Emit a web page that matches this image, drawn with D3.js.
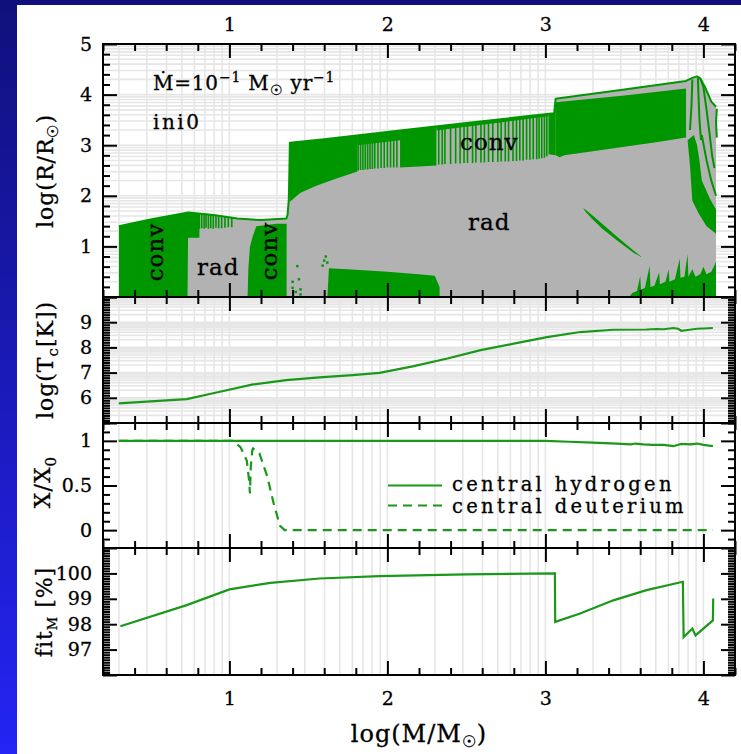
<!DOCTYPE html>
<html>
<head>
<meta charset="utf-8">
<script src="https://cdn.jsdelivr.net/npm/d3@7"></script>
<style>
  html, body { margin: 0; padding: 0; background: #fff; }
  svg { display: block; }
  text { font-family: "DejaVu Serif", serif; fill: #000; stroke: #000; stroke-width: 0.3; }
</style>
</head>
<body>
<svg id="fig" width="741" height="754"></svg>
<script>
// ---------- data ----------
// log M axis ticks
const massMajor = [1, 2, 3, 4];
const massLabels = ["1", "2", "3", "4"];

// panel tick labels
const radiusLabels = [1, 2, 3, 4, 5];
const tempLabels = [6, 7, 8, 9];
const abundLabels = [0, 0.5, 1];
const fitLabels = [97, 98, 99, 100];

// stellar surface log(R/Rsun) vs log(M/Msun)
const surfaceR = [
  [0.30, 1.40], [0.50, 1.53], [0.74, 1.67], [0.90, 1.62], [1.05, 1.55], [1.20, 1.52],
  [1.36, 1.55], [1.368, 1.62], [1.376, 1.92], [1.383, 3.05], [1.60, 3.12], [2.08, 3.29],
  [2.50, 3.44], [3.055, 3.63], [3.065, 3.92], [3.50, 4.10], [3.89, 4.27], [3.93, 4.33],
  [3.96, 4.36], [3.98, 4.32], [4.01, 4.15], [4.05, 3.86], [4.08, 3.76]
];

// convective zones (closed outlines, log M vs log R)
const convCore = [[0.30, 0], [0.30, 1.45], [0.74, 1.75], [0.735, 0]];
const convBandLeft = [[0.735, 1.17], [0.735, 1.80], [0.81, 1.80], [0.81, 1.17]];
const convMid = [[1.115, 0], [1.12, 0.55], [1.13, 1.0], [1.15, 1.22], [1.17, 1.40], [1.30, 1.45], [1.362, 1.45], [1.362, 0]];
const envA = [[1.383, 3.3], [1.383, 1.88], [1.45, 2.06], [1.55, 2.20], [1.66, 2.32], [1.81, 2.48], [1.81, 3.4]];
const envB = [[1.81, 3.0], [2.08, 3.1], [2.08, 3.5], [1.81, 3.5]];
const envC = [[2.08, 2.56], [2.20, 2.58], [2.31, 2.60], [2.31, 3.5], [2.08, 3.5]];
const envD = [[2.31, 3.29], [3.02, 3.57], [3.02, 3.8], [2.31, 3.5]];
const envE = [[3.02, 2.82], [3.065, 2.80], [3.065, 3.8], [3.02, 3.8]];
const envF = [[3.065, 2.80], [3.09, 2.76], [3.12, 2.80], [3.30, 2.88], [3.50, 2.97], [3.70, 3.06],
              [3.89, 3.15], [3.89, 4.12], [3.50, 3.98], [3.065, 3.85]];
const convWedge = [[3.90, 3.10], [3.915, 2.60], [3.93, 1.90], [3.97, 1.65], [4.02, 1.40], [4.08, 1.25],
                   [4.085, 1.70], [4.04, 1.95], [3.99, 2.30], [3.975, 2.70], [3.96, 3.00], [3.94, 3.20]];
const convShell = [[3.24, 1.76], [3.28, 1.66], [3.35, 1.47], [3.45, 1.20], [3.55, 0.94], [3.61, 0.79],
                   [3.56, 0.87], [3.46, 1.10], [3.36, 1.35], [3.29, 1.56], [3.25, 1.70]];
const convInnerA = [[1.62, 0], [1.63, 0.57], [1.80, 0.54], [2.00, 0.50], [2.20, 0.45], [2.30, 0.42], [2.33, 0.20], [2.33, 0]];
const convInnerB = [
  [3.53, 0], [3.55, 0.08], [3.58, 0.12], [3.60, 0.42], [3.605, 0.15], [3.63, 0.18], [3.66, 0.62],
  [3.665, 0.20], [3.69, 0.22], [3.72, 0.49], [3.725, 0.25], [3.76, 0.30], [3.78, 0.55], [3.785, 0.30],
  [3.82, 0.35], [3.85, 0.76], [3.855, 0.38], [3.88, 0.40], [3.90, 0.85], [3.905, 0.40], [3.93, 0.55],
  [3.95, 0.40], [3.98, 0.45], [4.00, 0.60], [4.02, 0.45], [4.05, 0.50], [4.08, 0.69], [4.08, 0]
];

// intermittent convective episodes: [log M, lower log R]
const stripesLeft = [[0.81, 1.35], [0.825, 1.36], [0.84, 1.35], [0.852, 1.37], [0.867, 1.35], [0.882, 1.36],
  [0.898, 1.35], [0.915, 1.37], [0.932, 1.36], [0.951, 1.36], [0.972, 1.37], [0.993, 1.38], [1.015, 1.38]];
const stripesEnvB = [[1.815, 2.50], [1.83, 2.51], [1.845, 2.51], [1.86, 2.52], [1.875, 2.52], [1.89, 2.53],
  [1.905, 2.53], [1.92, 2.54], [1.94, 2.54], [1.96, 2.55], [1.98, 2.55], [2.00, 2.56], [2.02, 2.56],
  [2.04, 2.56], [2.06, 2.56]];
const stripesEnvD = [[2.325, 2.62], [2.347, 2.62], [2.364, 2.63], [2.40, 2.63], [2.432, 2.64], [2.46, 2.64],
  [2.485, 2.65], [2.507, 2.65], [2.539, 2.65], [2.56, 2.66], [2.592, 2.66], [2.614, 2.66], [2.64, 2.67],
  [2.667, 2.67], [2.699, 2.67], [2.72, 2.68], [2.746, 2.68], [2.767, 2.68], [2.795, 2.69], [2.817, 2.69],
  [2.838, 2.70], [2.859, 2.70], [2.881, 2.71], [2.902, 2.71], [2.923, 2.72], [2.945, 2.72], [2.96, 2.73],
  [2.977, 2.74], [2.994, 2.75], [3.009, 2.78]];
const convSpecks = [[1.40, 0.30], [1.40, 0.18], [1.42, 0.10], [1.43, 0.61], [1.44, 0.35], [1.45, 0.15],
  [1.45, 0.05], [1.59, 0.62], [1.60, 0.72], [1.61, 0.80], [1.62, 0.68]];

// strands near the end of the run
const outerEdge = [[3.98, 4.33], [4.00, 4.15], [4.02, 3.70], [4.04, 3.20], [4.055, 2.80], [4.07, 2.55]];
const strandA = [[3.93, 4.30], [3.925, 3.80], [3.915, 3.30]];
const strandB = [[3.965, 4.34], [3.97, 3.90], [3.975, 3.50], [3.985, 3.10]];
const strandC = [[4.085, 3.72], [4.08, 3.45], [4.085, 3.15]];
const strandD = [[3.99, 3.2], [4.02, 2.7], [4.05, 2.3], [4.08, 2.0]];

// central temperature log(Tc[K])
const coreTemp = [[0.30, 5.78], [0.73, 5.95], [0.94, 6.24], [1.15, 6.53], [1.36, 6.70], [1.57, 6.81],
  [1.78, 6.90], [1.95, 6.99], [2.16, 7.25], [2.38, 7.56], [2.59, 7.89], [2.80, 8.15], [3.01, 8.41],
  [3.22, 8.61], [3.43, 8.70], [3.64, 8.71], [3.70, 8.73], [3.75, 8.72], [3.81, 8.77], [3.84, 8.74],
  [3.86, 8.66], [3.90, 8.69], [3.96, 8.74], [4.00, 8.75], [4.06, 8.77]];

// central abundances relative to initial
const hydrogen = [[0.30, 1.0], [3.00, 1.0], [3.15, 0.99], [3.30, 0.98], [3.45, 0.97], [3.54, 0.96],
  [3.57, 0.97], [3.62, 0.96], [3.68, 0.955], [3.75, 0.955], [3.81, 0.94], [3.86, 0.965], [3.92, 0.96],
  [3.96, 0.97], [4.00, 0.955], [4.06, 0.94]];
const deuterium = [[0.30, 1.0], [1.02, 1.0], [1.07, 0.93], [1.11, 0.78], [1.125, 0.55], [1.13, 0.41],
  [1.135, 0.70], [1.145, 0.90], [1.15, 0.915], [1.19, 0.86], [1.24, 0.60], [1.28, 0.30], [1.32, 0.05],
  [1.35, 0.0], [4.06, 0.0]];

// mass fit quality [%]
const fitM = [[0.31, 97.92], [0.73, 98.75], [1.00, 99.37], [1.26, 99.63], [1.57, 99.80], [1.95, 99.89],
  [2.50, 99.96], [3.06, 100.0], [3.062, 98.09], [3.22, 98.42], [3.43, 98.94], [3.64, 99.34],
  [3.87, 99.67], [3.875, 97.49], [3.93, 97.83], [3.95, 97.56], [4.06, 98.15], [4.062, 99.01]];

// ---------- drawing ----------
const GREEN = "#009600";
const LINE = "#1a981a";
const GREY = "#b2b2b2";
const GRID = "#e6e6e6";

const svg = d3.select("#fig");
const defs = svg.append("defs");

const bg = defs.append("linearGradient").attr("id", "bg").attr("x1", 0).attr("y1", 0).attr("x2", 0).attr("y2", 1);
bg.append("stop").attr("offset", "0%").attr("stop-color", "#10107c");
bg.append("stop").attr("offset", "100%").attr("stop-color", "#2424f4");
svg.append("rect").attr("width", 741).attr("height", 754).attr("fill", "url(#bg)");
svg.append("rect").attr("x", 17).attr("y", 5).attr("width", 724).attr("height", 749).attr("fill", "#fff");

const x = d3.scaleLinear().domain([0.2, 4.2]).range([103, 735]);
const L = 103, R = 735;

const panels = [
  { y: d3.scaleLinear().domain([0, 5]).range([297, 44]), major: [0, 1, 2, 3, 4, 5], labels: radiusLabels, minor: 0.2, hgrid: true },
  { y: d3.scaleLinear().domain([5, 10]).range([423, 297]), major: [5, 6, 7, 8, 9, 10], labels: tempLabels, minor: 0.1, hgrid: true },
  { y: d3.scaleLinear().domain([-0.2, 1.2]).range([548, 423]), major: [0, 0.5, 1], labels: abundLabels, minor: 0.1, hgrid: false },
  { y: d3.scaleLinear().domain([96, 101]).range([675, 548]), major: [96, 97, 98, 99, 100, 101], labels: fitLabels, minor: 0.1, hgrid: false }
];

// logarithmic guide positions n + log10(k)
function logGuides(lo, hi) {
  const out = [];
  for (let n = Math.floor(lo); n <= Math.ceil(hi); n++) {
    for (let k = 1; k <= 9; k++) {
      const v = n + Math.log10(k);
      if (v > lo + 1e-6 && v < hi - 1e-6) out.push(v);
    }
  }
  return out;
}

panels.forEach((p) => {
  const g = svg.append("g");
  const [y0, y1] = p.y.range();
  g.selectAll(".vg").data(logGuides(0.2, 4.2)).join("line")
    .attr("x1", d => x(d)).attr("x2", d => x(d)).attr("y1", y1).attr("y2", y0)
    .attr("stroke", GRID).attr("stroke-width", 1.6);
  if (p.hgrid) {
    const [d0, d1] = p.y.domain();
    g.selectAll(".hg").data(logGuides(d0, d1)).join("line")
      .attr("x1", L).attr("x2", R).attr("y1", d => p.y(d)).attr("y2", d => p.y(d))
      .attr("stroke", GRID).attr("stroke-width", 1.6);
  }
});

// ---- panel 1: convective structure ----
const p1 = panels[0];
const line1 = d3.line().x(d => x(d[0])).y(d => p1.y(d[1]));
const surfArea = d3.area().x(d => x(d[0])).y0(p1.y(0)).y1(d => p1.y(d[1]));

defs.append("clipPath").attr("id", "star")
  .append("path").attr("d", surfArea(surfaceR));

const body = svg.append("g").attr("clip-path", "url(#star)");
body.append("path").attr("d", surfArea(surfaceR)).attr("fill", GREY);

[convCore, convBandLeft, convMid, envA, envB, envC, envD, envE, envF, convWedge, convShell, convInnerA, convInnerB]
  .forEach(poly => body.append("path").attr("d", line1(poly) + "Z").attr("fill", GREEN));

[stripesLeft, stripesEnvB, stripesEnvD].forEach(set => {
  body.append("g").selectAll("line").data(set).join("line")
    .attr("x1", d => x(d[0])).attr("x2", d => x(d[0]))
    .attr("y1", d => p1.y(d[1])).attr("y2", p1.y(5))
    .attr("stroke", GREEN).attr("stroke-width", 1.6);
});

body.append("g").selectAll("rect").data(convSpecks).join("rect")
  .attr("x", d => x(d[0]) - 1.2).attr("y", d => p1.y(d[1]) - 1.2)
  .attr("width", 2.4).attr("height", 2.4).attr("fill", GREEN);

[strandA, strandB, strandC, strandD, outerEdge].forEach(s =>
  svg.append("path").attr("d", line1(s)).attr("fill", "none").attr("stroke", GREEN).attr("stroke-width", 2));

svg.append("path").attr("d", line1(surfaceR)).attr("fill", "none")
  .attr("stroke", GREEN).attr("stroke-width", 2).attr("stroke-linejoin", "round");

// labels inside panel 1
const ann = svg.append("text").attr("x", 153).attr("y", 90).attr("font-size", 20).attr("letter-spacing", 0.8);
ann.append("tspan").text("Ṁ=10");
ann.append("tspan").attr("font-size", 14).attr("dy", -8).text("−1");
ann.append("tspan").attr("dy", 8).text(" M");
ann.append("tspan").attr("font-size", 14).attr("dy", 5).text("☉");
ann.append("tspan").attr("dy", -5).text(" yr");
ann.append("tspan").attr("font-size", 14).attr("dy", -8).text("−1");
svg.append("text").attr("x", 153).attr("y", 129).attr("font-size", 20).attr("letter-spacing", 2.5).text("ini0");

svg.append("text").attr("transform", "translate(163,252) rotate(-90)").attr("text-anchor", "middle")
  .attr("font-size", 23).attr("letter-spacing", 1).text("conv");
svg.append("text").attr("transform", "translate(277,251) rotate(-90)").attr("text-anchor", "middle")
  .attr("font-size", 23).attr("letter-spacing", 1).text("conv");
svg.append("text").attr("x", 197).attr("y", 275).attr("font-size", 23).attr("letter-spacing", 1).text("rad");
svg.append("text").attr("x", 460).attr("y", 150).attr("font-size", 23).attr("letter-spacing", 1).text("conv");
svg.append("text").attr("x", 468).attr("y", 230).attr("font-size", 23).attr("letter-spacing", 1).text("rad");

// ---- panel 2: central temperature ----
const p2 = panels[1];
svg.append("path").attr("d", d3.line().x(d => x(d[0])).y(d => p2.y(d[1]))(coreTemp))
  .attr("fill", "none").attr("stroke", LINE).attr("stroke-width", 2.2);

// ---- panel 3: central abundances ----
const p3 = panels[2];
const line3 = d3.line().x(d => x(d[0])).y(d => p3.y(d[1]));
svg.append("path").attr("d", line3(hydrogen)).attr("fill", "none").attr("stroke", LINE).attr("stroke-width", 2.2);
svg.append("path").attr("d", line3(deuterium)).attr("fill", "none").attr("stroke", LINE).attr("stroke-width", 2.2)
  .attr("stroke-dasharray", "9,6");
svg.append("line").attr("x1", 388).attr("x2", 442).attr("y1", 485.5).attr("y2", 485.5)
  .attr("stroke", LINE).attr("stroke-width", 2.2);
svg.append("line").attr("x1", 388).attr("x2", 442).attr("y1", 505.5).attr("y2", 505.5)
  .attr("stroke", LINE).attr("stroke-width", 2.2).attr("stroke-dasharray", "9,6");
svg.append("text").attr("x", 452).attr("y", 491).attr("font-size", 19.5).attr("letter-spacing", 3.3).text("central hydrogen");
svg.append("text").attr("x", 452).attr("y", 512.5).attr("font-size", 19.5).attr("letter-spacing", 3.3).text("central deuterium");

// ---- panel 4: mass fit ----
const p4 = panels[3];
svg.append("path").attr("d", d3.line().x(d => x(d[0])).y(d => p4.y(d[1]))(fitM))
  .attr("fill", "none").attr("stroke", LINE).attr("stroke-width", 2.2);

// ---- frames and ticks ----
function styleAxis(sel) {
  sel.select(".domain").remove();
  sel.selectAll(".tick line").attr("stroke", "#000").attr("stroke-width", 2);
  sel.selectAll(".tick text").attr("font-family", "DejaVu Serif").attr("font-size", 19)
    .attr("fill", "#000").attr("stroke", "#000").attr("stroke-width", 0.3);
}
const massMinor = d3.range(0.2, 4.2001, 0.2).filter(v => Math.abs(v - Math.round(v)) > 1e-6);

panels.forEach((p, i) => {
  const [yb, yt] = p.y.range();
  const [d0, d1] = p.y.domain();
  const yMinor = d3.range(d0, d1 + 1e-6, p.minor).filter(v => !p.major.some(m => Math.abs(m - v) < 1e-6));
  const fmt = d => p.labels.some(l => Math.abs(l - d) < 1e-6) ? String(d) : "";

  const bottomMaj = d3.axisBottom(x).tickValues(massMajor).tickSize(-14).tickPadding(17)
    .tickFormat((d, j) => i === 3 ? massLabels[j] : "");
  svg.append("g").attr("transform", `translate(0,${yb})`).call(bottomMaj).call(styleAxis);
  svg.append("g").attr("transform", `translate(0,${yb})`)
    .call(d3.axisBottom(x).tickValues(massMinor).tickSize(-7).tickFormat("")).call(styleAxis);
  const topMaj = d3.axisTop(x).tickValues(massMajor).tickSize(-14).tickPadding(13)
    .tickFormat((d, j) => i === 0 ? massLabels[j] : "");
  svg.append("g").attr("transform", `translate(0,${yt})`).call(topMaj).call(styleAxis);
  svg.append("g").attr("transform", `translate(0,${yt})`)
    .call(d3.axisTop(x).tickValues(massMinor).tickSize(-7).tickFormat("")).call(styleAxis);
  svg.append("g").attr("transform", `translate(${L},0)`)
    .call(d3.axisLeft(p.y).tickValues(p.major).tickSize(-14).tickPadding(11).tickFormat(fmt)).call(styleAxis);
  svg.append("g").attr("transform", `translate(${L},0)`)
    .call(d3.axisLeft(p.y).tickValues(yMinor).tickSize(-7).tickFormat("")).call(styleAxis);
  svg.append("g").attr("transform", `translate(${R},0)`)
    .call(d3.axisRight(p.y).tickValues(p.major).tickSize(-14).tickFormat("")).call(styleAxis);
  svg.append("g").attr("transform", `translate(${R},0)`)
    .call(d3.axisRight(p.y).tickValues(yMinor).tickSize(-7).tickFormat("")).call(styleAxis);

  svg.append("rect").attr("x", L).attr("y", yt).attr("width", R - L).attr("height", yb - yt)
    .attr("fill", "none").attr("stroke", "#000").attr("stroke-width", 2);
});

// ---- axis titles ----
function yTitle(cx, cy, parts) {
  const t = svg.append("text").attr("transform", `translate(${cx},${cy}) rotate(-90)`)
    .attr("text-anchor", "middle").attr("font-size", 22).attr("letter-spacing", 1);
  parts.forEach(p => {
    const s = t.append("tspan").text(p.t);
    if (p.fs) s.attr("font-size", p.fs);
    if (p.dy) s.attr("dy", p.dy);
  });
}
yTitle(53, 171, [{ t: "log(R/R" }, { t: "☉", fs: 15, dy: 5 }, { t: ")", dy: -5 }]);
yTitle(53, 360, [{ t: "log(T" }, { t: "c", fs: 15, dy: 5 }, { t: "[K])", dy: -5 }]);
yTitle(50, 482, [{ t: "X/X" }, { t: "0", fs: 15, dy: 6 }]);
yTitle(52, 612, [{ t: "fit" }, { t: "M", fs: 13, dy: 5 }, { t: " [%]", dy: -5 }]);

const xt = svg.append("text").attr("x", 419).attr("y", 742).attr("text-anchor", "middle")
  .attr("font-size", 24).attr("letter-spacing", 1);
xt.append("tspan").text("log(M/M");
xt.append("tspan").attr("font-size", 16).attr("dy", 5).text("☉");
xt.append("tspan").attr("dy", -5).text(")");
</script>
</body>
</html>
